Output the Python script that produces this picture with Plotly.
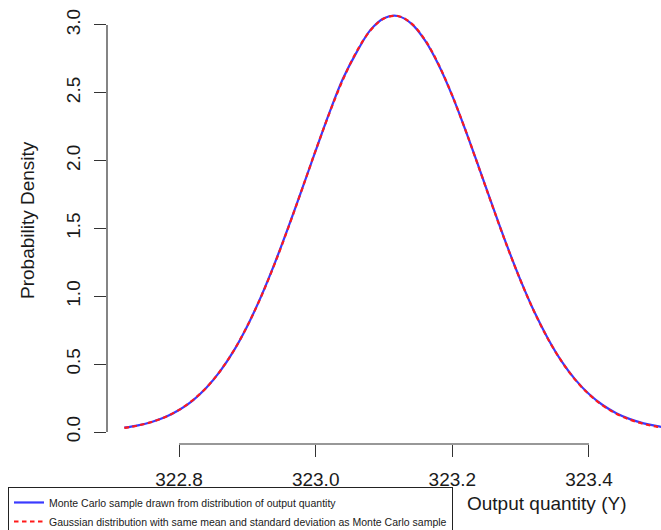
import plotly.graph_objects as go

# ---- data ----
x_vals = [322.72, 322.74, 322.76, 322.78, 322.80, 322.82, 322.84, 322.86, 322.88, 322.90,
          322.92, 322.94, 322.96, 322.98, 323.00, 323.02, 323.04, 323.06, 323.08, 323.10,
          323.12, 323.14, 323.16, 323.18, 323.20, 323.22, 323.24, 323.26, 323.28, 323.30,
          323.32, 323.34, 323.36, 323.38, 323.40, 323.42, 323.44, 323.46, 323.48, 323.50,
          323.52]

mc_density = [0.032, 0.049, 0.074, 0.110, 0.162, 0.232, 0.326, 0.447, 0.598, 0.782,
              0.998, 1.243, 1.510, 1.790, 2.073, 2.352, 2.605, 2.800, 2.962, 3.050,
              3.066, 3.010, 2.886, 2.705, 2.477, 2.214, 1.934, 1.650, 1.373, 1.116,
              0.886, 0.688, 0.521, 0.386, 0.280, 0.199, 0.139, 0.095, 0.064, 0.043,
              0.028]

gauss_density = [0.030, 0.048, 0.074, 0.111, 0.163, 0.234, 0.327, 0.448, 0.599, 0.782,
                 0.996, 1.240, 1.507, 1.789, 2.075, 2.349, 2.598, 2.805, 2.959, 3.048,
                 3.066, 3.012, 2.890, 2.708, 2.478, 2.214, 1.932, 1.647, 1.371, 1.115,
                 0.885, 0.686, 0.520, 0.384, 0.278, 0.196, 0.135, 0.091, 0.060, 0.038,
                 0.024]

x_ticks = [322.8, 323.0, 323.2, 323.4]
x_tick_labels = ["322.8", "323.0", "323.2", "323.4"]
y_ticks = [0.0, 0.5, 1.0, 1.5, 2.0, 2.5, 3.0]
y_tick_labels = ["0.0", "0.5", "1.0", "1.5", "2.0", "2.5", "3.0"]

series_names = [
    "Monte Carlo sample drawn from distribution of output quantity",
    "Gaussian distribution with same mean and standard deviation as Monte Carlo sample",
]
x_title = "Output quantity (Y)"
y_title = "Probability Density"

FONT = "Liberation Sans, Arial, Helvetica, sans-serif"
AXIS_COLOR = "#333333"

fig = go.Figure()
fig.add_trace(go.Scatter(
    x=x_vals, y=mc_density, mode="lines", name=series_names[0],
    line=dict(color="#3a3aff", width=2.2, shape="spline"),
))
fig.add_trace(go.Scatter(
    x=x_vals, y=gauss_density, mode="lines", name=series_names[1],
    line=dict(color="#ff1a1a", width=2.2, dash="4.5px,3.5px", shape="spline"),
))

# R-style axis lines spanning first to last tick
fig.add_shape(type="line", xref="x", yref="paper",
              x0=x_ticks[0], x1=x_ticks[-1], y0=0, y1=0,
              line=dict(color=AXIS_COLOR, width=1.2))
fig.add_shape(type="line", xref="paper", yref="y",
              x0=0, x1=0, y0=y_ticks[0], y1=y_ticks[-1],
              line=dict(color=AXIS_COLOR, width=1.2))

fig.update_layout(
    width=661, height=530,
    margin=dict(l=107, r=0, t=0, b=86, autoexpand=False),
    paper_bgcolor="white", plot_bgcolor="white",
    font=dict(family=FONT, size=19, color="#1a1a1a"),
    showlegend=True,
    legend=dict(
        x=-0.1787, y=-0.0968, xanchor="left", yanchor="top",
        bordercolor="#222222", borderwidth=1, bgcolor="white",
        font=dict(family=FONT, size=10.5, color="#1a1a1a"),
        tracegroupgap=0,
    ),
    xaxis=dict(
        range=[322.6946, 323.5054],
        tickmode="array", tickvals=x_ticks, ticktext=x_tick_labels,
        ticks="outside", ticklen=12, tickwidth=1.2, tickcolor=AXIS_COLOR,
        showgrid=False, zeroline=False, showline=False,
        tickfont=dict(size=19), ticklabelstandoff=6,
    ),
    yaxis=dict(
        range=[-0.0884, 3.184],
        tickmode="array", tickvals=y_ticks, ticktext=y_tick_labels,
        ticks="outside", ticklen=12, tickwidth=1.2, tickcolor=AXIS_COLOR,
        showgrid=False, zeroline=False, showline=False,
        tickangle=-90, tickfont=dict(size=19), ticklabelstandoff=6,
    ),
    annotations=[
        dict(text=y_title, xref="paper", yref="paper", x=-0.1444, y=0.5045,
             xanchor="center", yanchor="middle", textangle=-90, showarrow=False,
             font=dict(size=19)),
        dict(text=x_title, xref="paper", yref="paper", x=0.7942, y=-0.1351,
             xanchor="center", yanchor="middle", showarrow=False,
             font=dict(size=19)),
    ],
)

fig.write_html("out.html", config={"displayModeBar": False},
               post_script="document.body.style.margin='0';")
